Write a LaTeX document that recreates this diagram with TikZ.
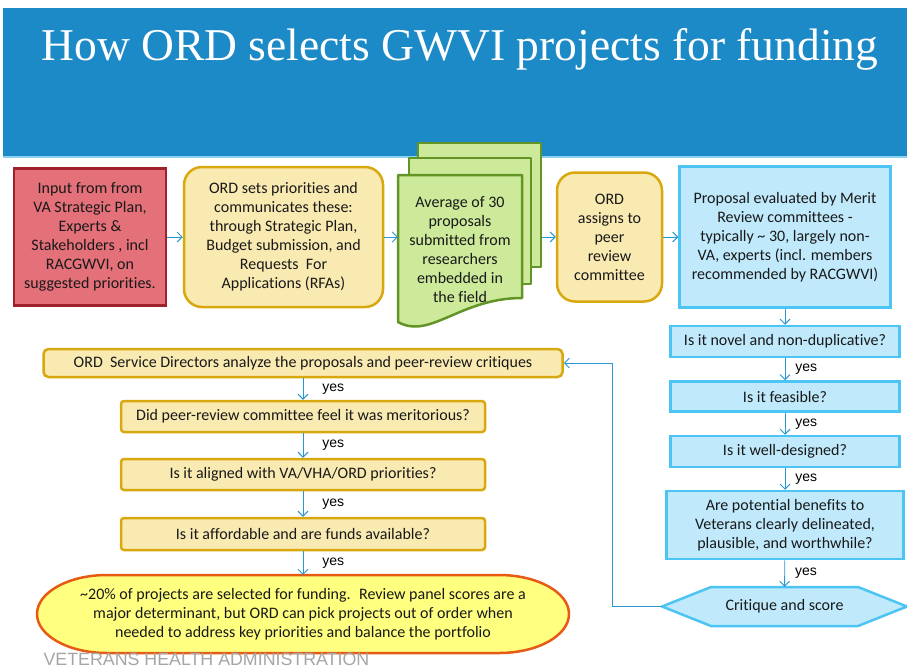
\documentclass[tikz,border=0pt]{standalone}
\usepackage{fontspec}
\setmainfont{Carlito}[RawFeature=-liga]
\newfontfamily\titlefont{Liberation Serif}
\newfontfamily\labelfont{Liberation Sans}
\usetikzlibrary{arrows.meta}

\definecolor{bannerblue}{RGB}{27,138,199}
\definecolor{bannerline}{RGB}{140,210,240}
\definecolor{redfill}{RGB}{228,112,122}
\definecolor{redline}{RGB}{160,32,46}
\definecolor{ordfill}{RGB}{249,234,178}
\definecolor{ordline}{RGB}{216,168,14}
\definecolor{docfill}{RGB}{204,234,154}
\definecolor{docline}{RGB}{98,148,38}
\definecolor{meritfill}{RGB}{192,234,252}
\definecolor{meritline}{RGB}{76,196,244}
\definecolor{pickfill}{RGB}{255,255,128}
\definecolor{pickline}{RGB}{230,90,20}
\definecolor{arrowblue}{RGB}{40,150,210}
\definecolor{footgray}{RGB}{165,165,165}

\tikzstyle{boxtext} = [font=\fontsize{16}{19}\selectfont, align=center, inner sep=0pt, text=black!90]
\tikzstyle{inputbox} = [boxtext, draw=redline, fill=redfill, line width=2.5pt]
\tikzstyle{ordbox} = [boxtext, draw=ordline, fill=ordfill, line width=2.5pt, rounded corners=18pt]
\tikzstyle{ordquestion} = [boxtext, draw=ordline, fill=ordfill, line width=2.5pt, rounded corners=3pt]
\tikzstyle{meritbox} = [boxtext, draw=meritline, fill=meritfill, line width=2.5pt]
\tikzstyle{docshape} = [draw=docline, fill=docfill, line width=2.5pt, line join=round]
\tikzstyle{pickshape} = [draw=pickline, fill=pickfill, line width=2.5pt]
\tikzstyle{flowarrow} = [draw=arrowblue, line width=0.9pt, -{Straight Barb[length=5pt,width=10pt]}]
\tikzstyle{yeslabel} = [font=\labelfont\fontsize{14}{16}\selectfont, anchor=west, inner sep=0pt]

\begin{document}
\begin{tikzpicture}[x=1pt,y=-1pt]
  \useasboundingbox (0,0) rectangle (907,667);

  % banner
  \fill[bannerblue] (3,8) rectangle (907,157);
  \draw[bannerline, line width=1.5pt] (3,157) -- (907,157);
  \node[font=\titlefont\fontsize{45.5}{50}\selectfont, text=white, anchor=base] (title) at (460,60)
    {How ORD selects GWVI projects for funding};

  % top row
  \node[inputbox, minimum width=152, minimum height=137] (input) at (90,237)
    {Input from from\\VA Strategic Plan,\\Experts \&\\Stakeholders , incl\\RACGWVI, on\\suggested priorities.};
  \node[ordbox, minimum width=199, minimum height=140] (ordsets) at (283.5,237)
    {ORD sets priorities and\\communicates these:\\through Strategic Plan,\\Budget submission, and\\Requests~~For\\Applications (RFAs)};

  % stack of proposals
  \node[docshape, minimum width=123, minimum height=124] (doc3) at (479.5,205) {};
  \node[docshape, minimum width=122, minimum height=126] (doc2) at (470,221) {};
  \path[docshape] (398,175) -- (522,175) -- (522,298)
    .. controls (460,298) and (430,340) .. (398,322) -- cycle;
  \node[boxtext, minimum width=124, minimum height=148] (doc1) at (460,250)
    {Average of 30\\proposals\\submitted from\\researchers\\embedded in\\the field};

  \node[ordbox, minimum width=105, minimum height=129] (assign) at (609.5,237)
    {ORD\\assigns to\\peer\\review\\committee};
  \node[meritbox, minimum width=211, minimum height=141] (merit) at (785,237)
    {Proposal evaluated by Merit\\Review committees -\\typically \textasciitilde{} 30, largely non-\\VA, experts (incl. members\\recommended by RACGWVI)};

  % merit review questions
  \foreach \nodename/\y/\w/\h/\txt in {
    novel/341.5/229/31/{Is it novel and non-duplicative?},
    feasible/396.5/229/30/{Is it feasible?},
    welldesigned/451.5/229/31/{Is it well-designed?},
    benefits/525/237/68/{Are potential benefits to\\Veterans clearly delineated,\\plausible, and worthwhile?}}
  {
    \node[meritbox, minimum width=\w, minimum height=\h] (\nodename) at (785,\y) {\txt};
  };
  \fill[meritfill] (662,606.5) -- (711,587) -- (858,587) -- (907,606.5) -- (858,626) -- (711,626) -- cycle;
  \draw[meritline, line width=2.5pt, line join=round] (662,606.5) -- (711,587) -- (858,587) -- (907,606.5) -- (858,626) -- (711,626) -- cycle;
  \node[boxtext, minimum width=245, minimum height=39] (crit) at (784.5,606.5) {Critique and score};

  % ORD decision questions
  \node[ordquestion, minimum width=519, minimum height=28, rounded corners=5pt] (analyze) at (303,363)
    {ORD~~Service Directors analyze the proposals and peer-review critiques};
  \foreach \nodename/\y/\h/\txt in {
    didpeer/416.5/31/{Did peer-review committee feel it was meritorious?},
    aligned/474.5/31/{Is it aligned with VA/VHA/ORD priorities?},
    affordable/534/32/{Is it affordable and are funds available?}}
  {
    \node[ordquestion, minimum width=364, minimum height=\h] (\nodename) at (303,\y) {\txt};
  };
  % oval
  \path[pickshape] (107,575) -- (499,575)
    .. controls (537.7,575) and (569,592.5) .. (569,614)
    .. controls (569,635.5) and (537.7,653) .. (499,653) -- (107,653)
    .. controls (68.3,653) and (37,635.5) .. (37,614)
    .. controls (37,592.5) and (68.3,575) .. cycle;
  \node[boxtext, minimum width=532, minimum height=78] (pick) at (303,614)
    {\textasciitilde20\% of projects are selected for funding.~ Review panel scores are a\\major determinant, but ORD can pick projects out of order when\\needed to address key priorities and balance the portfolio};

  \node[font=\labelfont\fontsize{17.8}{20}\selectfont, text=footgray, anchor=base west] (footer) at (40,665)
    {VETERANS HEALTH ADMINISTRATION};

  %edges
  \draw[flowarrow] (input) -- (ordsets);
  \draw[flowarrow] (ordsets) -- (ordsets -| doc1.west);
  \draw[flowarrow] (doc3.east |- assign.west) -- (assign.west);
  \draw[flowarrow] (assign) -- (merit);
  \draw[flowarrow] (merit) -- (novel);
  \path
  \foreach \startnode/\endnode/\dx in {
    novel/feasible/10, feasible/welldesigned/10, welldesigned/benefits/10, benefits/crit/10,
    analyze/didpeer/19, didpeer/aligned/19, aligned/affordable/19, affordable/pick/19}
  {
    (\startnode) edge[flowarrow] node[yeslabel, xshift=\dx] {yes} (\endnode)
  };
  \coordinate (loopback) at (612,606.5);
  \draw[flowarrow] (crit.west) -- (loopback) |- (analyze.east);
\end{tikzpicture}
\end{document}
